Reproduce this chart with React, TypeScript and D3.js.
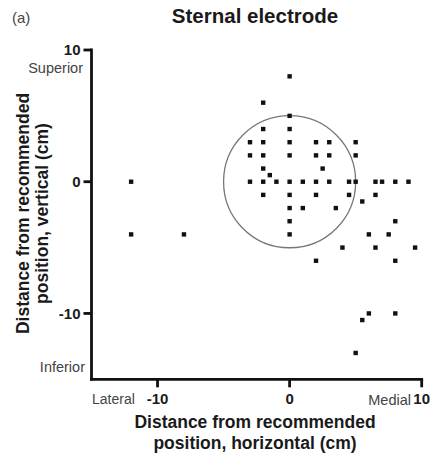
import React from "react";
import * as d3 from "d3";

const xPos: number[] = [0, -2, 0, -2, 0, -3, -2, 0, 2, 3, 5, -3, -2, 0, 2, 3, 5, -2, 2.5, -1.5,
  -12, -3, -2, -1, 0, 1, 2, 3, 4.5, 5, 6.5, 7, 8, 9,
  -2, 0, 2, 4.5, 6.5, 5.5, 0, 1, 3.5, 0, 8, -12, -8, 0, 6, 7.5, 4, 6.5, 9.5, 2, 8, 6, 8, 5.5, 5];
const yPos: number[] = [8, 6, 5, 4, 4, 3, 3, 3, 3, 3, 3, 2, 2, 2, 2, 2, 2, 1, 1, 0.5,
  0, 0, 0, 0, 0, 0, 0, 0, 0, 0, 0, 0, 0, 0,
  -1, -1, -1, -1, -1, -1.5, -2, -2, -2, -3, -3, -4, -4, -4, -4, -4, -5, -5, -5, -6, -6, -10, -10, -10.5, -13];
const xTicks: number[] = [-10, 0, 10];
const yTicks: number[] = [10, 0, -10];
const circleRadius = 5;

export default function App() {
  const x = d3.scaleLinear().domain([-15, 10]).range([91.5, 421.7]);
  const y = d3.scaleLinear().domain([-15, 10]).range([379.3, 50]);
  const font = "Liberation Sans, Arial, sans-serif";
  const pts = xPos.map((v, i) => [v, yPos[i]]);
  const r = x(circleRadius) - x(0);
  const x0 = x(-15);
  const y0 = y(-15);
  return (
    <svg width={435} height={454} style={{ position: "absolute", left: 0, top: 0 }} fontFamily={font}>
      <rect width={435} height={454} fill="#fff" />
      <text x={12} y={23} fontSize={15} fill="#444">(a)</text>
      <text x={255} y={23} fontSize={20.5} fontWeight="bold" textAnchor="middle" fill="#1a1a1a">Sternal electrode</text>
      <circle cx={x(0)} cy={y(0)} r={r} fill="none" stroke="#777" strokeWidth={1.3} />
      {pts.map(([a, b], i) => (
        <rect key={i} x={x(a) - 2.2} y={y(b) - 2.2} width={4.4} height={4.4} fill="#111" />
      ))}
      <g stroke="#111" strokeWidth={2.8} fill="none">
        <line x1={x0} x2={x0} y1={y(10) - 1.4} y2={y0 + 1.4} />
        <line x1={x0 - 1.4} x2={x(10) + 1.4} y1={y0} y2={y0} />
        {yTicks.map((t) => (
          <line key={t} x1={x0 - 8} x2={x0} y1={y(t)} y2={y(t)} />
        ))}
        {xTicks.map((t) => (
          <line key={t} x1={x(t)} x2={x(t)} y1={y0} y2={y0 + 8} />
        ))}
      </g>
      {yTicks.map((t) => (
        <text key={t} x={x0 - 11} y={y(t)} dy="0.35em" fontSize={15} fontWeight="bold" textAnchor="end" fill="#1a1a1a">{t}</text>
      ))}
      {xTicks.map((t) => (
        <text key={t} x={x(t)} y={y0 + 19} dy="0.35em" fontSize={15} fontWeight="bold" textAnchor="middle" fill="#1a1a1a">{t}</text>
      ))}
      <text x={83} y={73} fontSize={14.5} textAnchor="end" fill="#444">Superior</text>
      <text x={85} y={372} fontSize={14.5} textAnchor="end" fill="#444">Inferior</text>
      <text x={92} y={404} fontSize={14} textAnchor="start" fill="#444">Lateral</text>
      <text x={411} y={405} fontSize={14.5} textAnchor="end" fill="#444">Medial</text>
      <text x={255} y={428} fontSize={17.5} fontWeight="bold" textAnchor="middle" fill="#1a1a1a">Distance from recommended</text>
      <text x={255} y={449} fontSize={17.5} fontWeight="bold" textAnchor="middle" fill="#1a1a1a">position, horizontal (cm)</text>
      <g transform="translate(0,213.5) rotate(-90)">
        <text x={0} y={28.5} fontSize={17.5} fontWeight="bold" textAnchor="middle" fill="#1a1a1a">Distance from recommended</text>
        <text x={0} y={48} fontSize={17.5} fontWeight="bold" textAnchor="middle" fill="#1a1a1a">position, vertical (cm)</text>
      </g>
    </svg>
  );
}
